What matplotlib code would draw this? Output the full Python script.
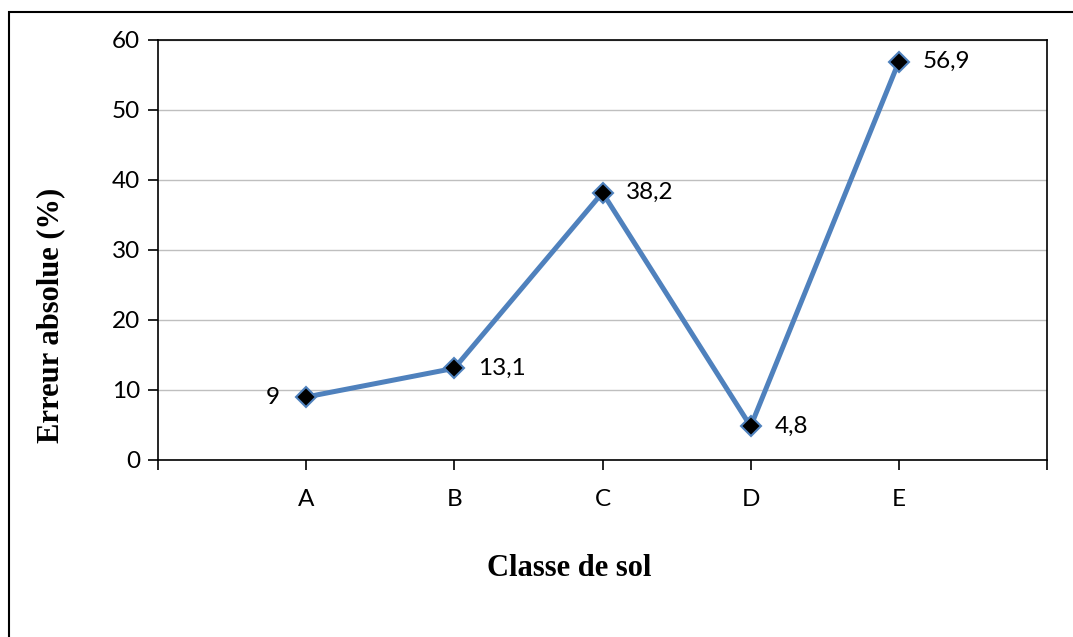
import matplotlib.pyplot as plt
from matplotlib.patches import Rectangle

# Data
classes = ['A', 'B', 'C', 'D', 'E']
erreur = [9, 13.1, 38.2, 4.8, 56.9]
labels = ['9', '13,1', '38,2', '4,8', '56,9']
yticks = [0, 10, 20, 30, 40, 50, 60]

plt.rcParams['font.family'] = ['Lato', 'DejaVu Sans']

fig = plt.figure(figsize=(10.73, 6.37), dpi=100)
W, H = 1073, 637
ax = fig.add_axes([158 / W, 1 - 460 / H, (1047 - 158) / W, (460 - 40) / H])

x = list(range(len(classes)))
ax.plot(x, erreur, color='#4F81BD', lw=3.6, marker='D', ms=10,
        mfc='black', mec='#4F81BD', mew=1.5, zorder=3)

# data labels
for i, (v, lab) in enumerate(zip(erreur, labels)):
    if i == 0:
        ax.annotate(lab, (i, v), xytext=(-19, 0), textcoords='offset points',
                    ha='right', va='center', fontsize=17.5)
    else:
        ax.annotate(lab, (i, v), xytext=(17, 0), textcoords='offset points',
                    ha='left', va='center', fontsize=17.5)

ax.set_xlim(-1, 5)
ax.set_ylim(0, 60)
ax.set_yticks(yticks)
ax.set_xticks(range(-1, 6))
ax.set_xticklabels([''] + classes + [''])
ax.grid(axis='y', color='#BFBFBF', lw=1)
ax.set_axisbelow(True)

for s in ax.spines.values():
    s.set_color('black')
    s.set_linewidth(1.2)

ax.tick_params(axis='both', direction='out', length=7, width=1.2, labelsize=17.5)
ax.tick_params(axis='x', pad=14)
ax.tick_params(axis='y', pad=6)

ax.set_ylabel('Erreur absolue (%)', family='Liberation Serif', fontweight='bold',
              fontsize=22)
ax.yaxis.set_label_coords(-0.104, 0.345)
ax.set_xlabel('Classe de sol', family='Liberation Serif', fontweight='bold',
              fontsize=22)
ax.xaxis.set_label_coords(0.463, -0.225)

# outer frame (only top and left visible)
fig.patches.append(Rectangle((9 / W, -0.1), 1.2, 1 - 12 / H + 0.1,
                             transform=fig.transFigure, fill=False,
                             ec='black', lw=1.5))

fig.savefig('out.png', dpi=100)
